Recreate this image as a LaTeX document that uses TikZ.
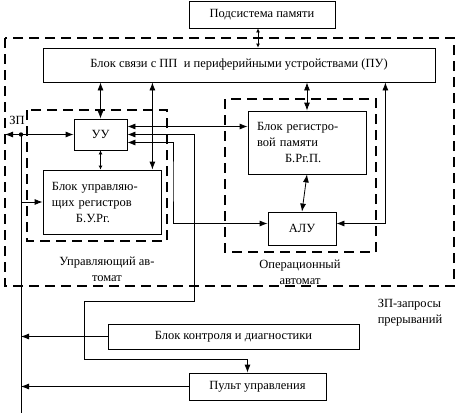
\documentclass[tikz,border=0pt]{standalone}
\usepackage{fontspec}
\setmainfont{Liberation Serif}
\usepackage{tikz}
\usetikzlibrary{arrows.meta}

\begin{document}
\begin{tikzpicture}[x=1pt, y=-1pt, >={Latex[length=8pt,width=6pt]}, line width=0.8pt,
  every node/.style={font=\fontsize{12.5}{16}\selectfont},
  blok/.style={draw, inner sep=0pt},
  ramka/.style={draw, dash pattern=on 10pt off 6pt, line width=2pt},
  malo/.style={>={Latex[length=4pt,width=4pt]}}]
\useasboundingbox (0,0) rectangle (456,415);
%
\draw[ramka] (5,38) rectangle (454,286);
\draw[ramka] (27,110) rectangle (167,241);
\draw[ramka] (225,99) rectangle (376,252);
%
\node (PS) [blok, minimum width=146, minimum height=27] at (262,14.5) {Подсистема памяти};
\node (BS) [blok, minimum width=392, minimum height=34] at (239,65) {Блок связи с ПП \ и периферийными устройствами (ПУ)};
\node (UU) [blok, minimum width=53, minimum height=31] at (100.5,134.5) {УУ};
\node (BUR) [blok, minimum width=118, minimum height=64, text width=100, align=left] at (102,202)
  {Блок управляю-\\щих регистров\\\hspace*{24pt}Б.У.Рг.};
\node (BRP) [blok, minimum width=118, minimum height=63, text width=100, align=left] at (307,142.5)
  {Блок регистро-\\вой памяти\\\hspace*{28pt}Б.Рг.П.};
\node (ALU) [blok, minimum width=68, minimum height=33] at (302,228.5) {АЛУ};
\node (BKD) [blok, minimum width=251, minimum height=25] at (233.5,336.5) {Блок контроля и диагностики};
\node (PU) [blok, minimum width=137, minimum height=27] at (257.5,386.5) {Пульт управления};
%
\node (UA) [align=center] at (107,269) {Управляющий ав-\\томат};
\node (OA) [align=center] at (300,272) {Операционный\\автомат};
\node (ZPt) [align=left] at (410,313) {ЗП-запросы\\прерываний};
\node (ZP) at (17,120) {ЗП};
%
\coordinate (zp) at (5,134.5);
\coordinate (bus) at (21,134.5);
\coordinate (busend) at (21,413);
\coordinate (t1) at (194,301);
\coordinate (t2) at (84,359);
\coordinate (t3) at (173,180);
%
\draw[<->, malo] (PS.south -| 258,0) -- (BS.north -| 258,0);
\draw[<->] (UU.north) -- (UU.north |- BS.south);
\draw[<->] ([xshift=-9]BUR.north east) -- ([xshift=-9]BUR.north east |- BS.south);
\draw[<->] (BRP.north) -- (BRP.north |- BS.south);
\draw[<->] ([yshift=5]ALU.east) -| ([xshift=-50]BS.south east);
\draw[<->] ([yshift=8]UU.east) -- ([yshift=8]UU.east -| BRP.west);
\draw[<->] (UU.east) -| (t1) -| (t2) -| ([xshift=-10]PU.north);
\draw[<->] ([yshift=-8]UU.east) -| (t3) |- ([yshift=5]ALU.west);
\draw[<->] (BRP.south) -- (ALU.north);
\draw[<->, malo] (UU.south) -- (UU.south |- BUR.north);
%
\draw[<->] (zp) -- (UU.west);
\fill (bus) circle (2.2);
\draw (bus) -- (busend);
\draw[->] (BUR.west -| bus) -- (BUR.west);
\draw[->] (BKD.west) -- (BKD.west -| bus);
\draw[->] (PU.west) -- (PU.west -| bus);
\end{tikzpicture}
\end{document}
